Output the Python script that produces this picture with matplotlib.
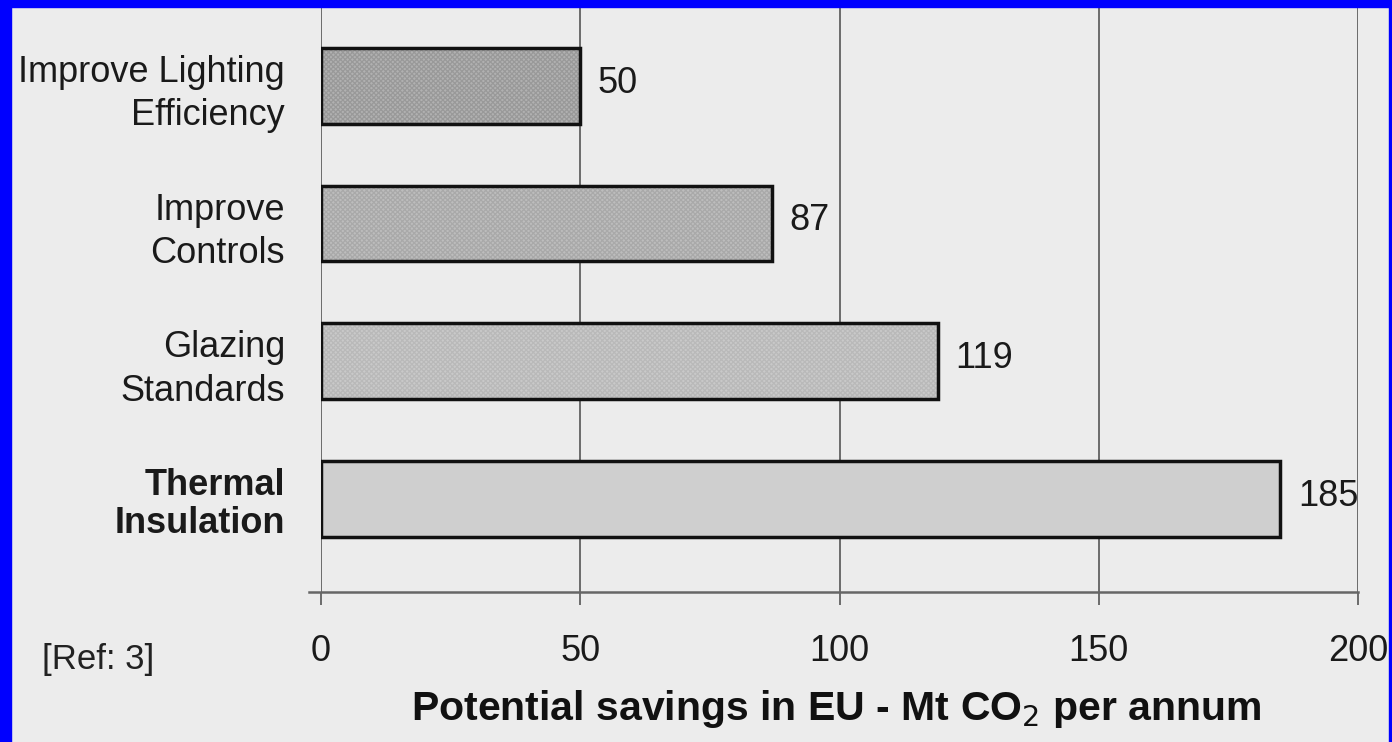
import numpy as np
import matplotlib.pyplot as plt
import matplotlib.patches as mpatches

# bottom to top
measures = ["Thermal\nInsulation", "Glazing\nStandards", "Improve\nControls", "Improve Lighting\nEfficiency"]
savings = [185, 119, 87, 50]
fills = ["#cfcfcf", "#c9c9c9", "#bdbdbd", "#b1b1b1"]
hatch_cols = ["#cfcfcf", "#b9b9b9", "#a9a9a9", "#999999"]
xticks = [0, 50, 100, 150, 200]

plt.rcParams['font.family'] = ['Liberation Sans', 'DejaVu Sans']
plt.rcParams['hatch.linewidth'] = 0.9

W, H = 1392, 742
fig = plt.figure(figsize=(W / 100, H / 100), dpi=100)
fig.patch.set_facecolor("#ececec")

x0, x1 = 321, 1358
y_axis = 592
ax = fig.add_axes([x0 / W, (H - y_axis) / H, (x1 - x0) / W, y_axis / H])
ax.set_facecolor("none")

ypos = np.arange(len(measures))
ax.set_xlim(0, 200)
ax.set_ylim(-0.674, 3.623)

for x in xticks:
    ax.axvline(x, color="#555555", lw=1.2, zorder=0)

for y, v, fc, hc in zip(ypos, savings, fills, hatch_cols):
    ax.barh(y, v, height=0.55, color=fc, edgecolor="none", zorder=2)
    ax.barh(y, v, height=0.55, color="none", edgecolor=hc, hatch="xxxxxxx", lw=0, zorder=3)
    ax.barh(y, v, height=0.55, color="none", edgecolor="#111111", lw=2.5, zorder=4)
    ax.text(v + 3.4, y + 0.02, str(v), va="center", ha="left", fontsize=26, color="#1a1a1a")

for s in ax.spines.values():
    s.set_visible(False)
ax.plot([-12 / (x1 - x0), 1], [0, 0], transform=ax.transAxes, color="#666666", lw=1.8, clip_on=False)

ax.set_xticks(xticks)
ax.set_xticklabels([str(t) for t in xticks], fontsize=26, color="#1a1a1a")
ax.tick_params(axis="x", length=9, width=1.2, color="#555555", pad=21)

ax.set_yticks(ypos)
ax.set_yticklabels(measures, fontsize=26, color="#1a1a1a", linespacing=1.32)
ax.tick_params(axis="y", length=0, pad=26)
bold = ax.get_yticklabels()[0]
bold.set_fontweight("bold")
bold.set_linespacing(1.12)

fig.text(836 / W, 1 - 709 / H, "Potential savings in EU - Mt CO$_2$ per annum",
         ha="center", va="center", fontsize=29.5, fontweight="bold", color="#111111")
fig.text(98 / W, 1 - 660 / H, "[Ref: 3]", ha="center", va="center", fontsize=25, color="#222222")

# blue frame on left, top and right edges
for (bx, by, bw, bh) in [(0, 0, 11, H), (0, 0, W, 7), (W - 3, 0, 3, H)]:
    fig.patches.append(mpatches.Rectangle((bx / W, 1 - (by + bh) / H), bw / W, bh / H,
                                          transform=fig.transFigure, color="#0000ff", zorder=10))

fig.savefig("out.png", dpi=100, facecolor=fig.get_facecolor())
